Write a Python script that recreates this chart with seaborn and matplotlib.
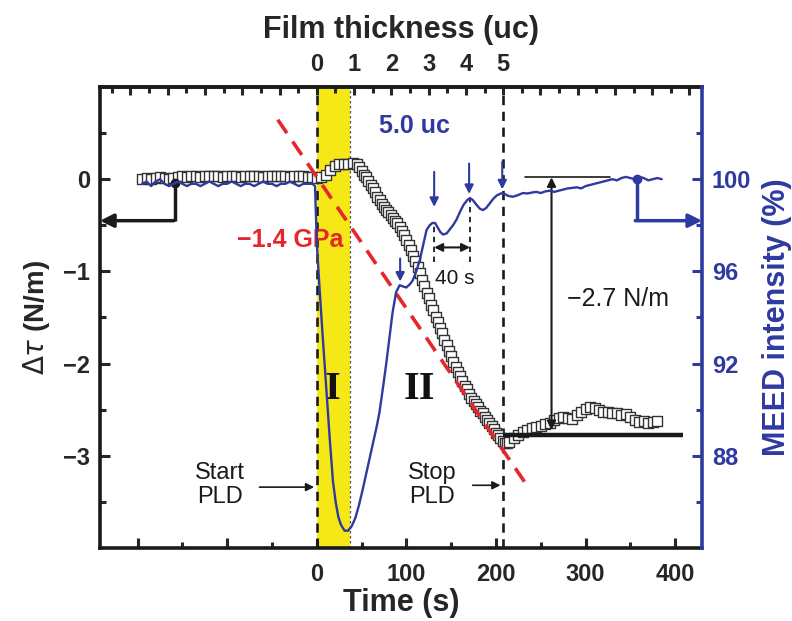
import numpy as np
import pandas as pd
import matplotlib
matplotlib.use("Agg")
import matplotlib.pyplot as plt
import seaborn as sns
from matplotlib.ticker import FixedLocator, MultipleLocator, FuncFormatter

# ---------------- data ----------------
# surface stress (N/m), three sampling blocks
stress_t1 = list(range(-195, 45, 5))
stress_v1 = [0.00, 0.01, 0.00, 0.01, 0.02, 0.01, 0.00, 0.01, 0.02, 0.03,
             0.02, 0.03, 0.03, 0.02, 0.03, 0.04, 0.03, 0.03, 0.02, 0.03,
             0.04, 0.03, 0.02, 0.03, 0.03, 0.04, 0.03, 0.02, 0.03, 0.03,
             0.04, 0.03, 0.03, 0.02, 0.03, 0.04, 0.03, 0.02, 0.02,
             0.01, 0.02, 0.05, 0.10, 0.14, 0.16, 0.17, 0.17, 0.18]
stress_t2 = [45 + 2.5 * i for i in range(68)]
stress_v2 = [0.16, 0.13, 0.09, 0.05,
             0.02, -0.02, -0.06, -0.10, -0.14, -0.19, -0.23, -0.27, -0.30, -0.33,
             -0.36, -0.39, -0.42, -0.45, -0.48, -0.52, -0.56, -0.61, -0.66, -0.71,
             -0.77, -0.83, -0.89, -0.95, -1.02, -1.09, -1.16, -1.23, -1.29, -1.36,
             -1.42, -1.49, -1.55, -1.61, -1.67, -1.74, -1.80, -1.86, -1.92, -1.98,
             -2.04, -2.09, -2.14, -2.19, -2.24, -2.28, -2.33, -2.37, -2.41, -2.44,
             -2.47, -2.51, -2.54, -2.58, -2.61, -2.64, -2.68, -2.71, -2.75, -2.78,
             -2.81, -2.84, -2.86, -2.86]
stress_t3 = list(range(215, 385, 5))
stress_v3 = [-2.85, -2.81, -2.77, -2.74, -2.72, -2.70, -2.69, -2.68, -2.66, -2.64,
             -2.61, -2.59, -2.58, -2.59, -2.60, -2.56, -2.52, -2.49, -2.47, -2.48,
             -2.50, -2.52, -2.53, -2.54, -2.54, -2.56, -2.55, -2.58, -2.61, -2.63,
             -2.62, -2.64, -2.63, -2.62]

# MEED intensity (%)
meed_t1 = list(range(-195, 0, 5))
meed_v1 = [99.8, 99.9, 99.7, 99.9, 100.0, 99.8, 99.7, 99.8, 99.9, 99.8,
           99.7, 99.8, 99.8, 99.7, 99.8, 99.9, 99.8, 99.7, 99.8, 99.8,
           99.9, 99.8, 99.7, 99.8, 99.8, 99.7, 99.8, 99.9, 99.8, 99.8,
           99.7, 99.8, 99.8, 99.9, 99.8, 99.7, 99.8, 99.8, 99.8]
meed_t2 = [-2, 0, 3, 6, 9, 12, 14.5, 18, 21, 24, 27, 31, 35, 39, 43, 47, 51, 55,
           59, 63, 67, 70, 74, 77.5, 81, 84.5, 88.5, 92.5, 96, 100, 104, 107, 111,
           115, 119, 122.5, 126, 129, 132, 135, 138, 141, 145, 149, 152, 156, 160,
           164, 168, 171, 174, 178, 182, 185.5, 189, 193, 197, 201, 206, 210, 214,
           219, 224, 230]
meed_v2 = [99.7, 97.2, 95.3, 93.5, 91.8, 90.1, 88.7, 86.9, 86.0, 85.35, 85.0, 84.75,
           84.75, 84.95, 85.3, 85.85, 86.5, 87.2, 87.9, 88.6, 89.3, 89.9, 91.0, 92.0,
           93.1, 94.2, 95.1, 95.4, 95.35, 95.3, 95.45, 95.6, 96.0, 96.5, 97.2, 97.8,
           98.0, 98.1, 98.1, 97.9, 97.7, 97.6, 97.65, 97.85, 98.0, 98.25, 98.6, 98.9,
           99.1, 99.18, 99.1, 98.9, 98.72, 98.66, 98.75, 98.95, 99.15, 99.3, 99.39,
           99.35, 99.27, 99.24, 99.3, 99.4]
meed_t3 = list(range(235, 390, 5))
meed_v3 = [99.38, 99.42, 99.45, 99.4, 99.47, 99.5, 99.45, 99.5, 99.55, 99.6,
           99.62, 99.65, 99.6, 99.7, 99.75, 99.8, 99.85, 99.9, 99.95, 100.0,
           99.95, 100.05, 100.1, 100.05, 100.0, 100.1, 100.05, 99.95, 100.0, 100.05,
           100.0]

time_ticks = [0, 100, 200, 300, 400]
stress_ticks = [0, -1, -2, -3]
meed_ticks = [88, 92, 96, 100]
uc_ticks = [0, 1, 2, 3, 4, 5]
sec_per_uc = 41.6

stress_df = pd.DataFrame({"time": stress_t1 + stress_t2 + stress_t3,
                          "stress": stress_v1 + stress_v2 + stress_v3})
meed_df = pd.DataFrame({"time": meed_t1 + meed_t2 + meed_t3,
                        "meed": meed_v1 + meed_v2 + meed_v3})

# ---------------- style ----------------
sns.set_theme(style="white")
plt.rcParams["font.family"] = ["Liberation Sans", "DejaVu Sans"]
plt.rcParams["mathtext.fontset"] = "dejavusans"

BLUE = "#2f3aa0"
RED = "#e5262b"
YELLOW = "#f6e816"

fig = plt.figure(figsize=(7.92, 6.21), dpi=100)
ax = fig.add_axes([0.1263, 0.1176, 0.7601, 0.7423])
ax.set_xlim(-242, 430)
ax.set_ylim(-4, 1)
ax2 = ax.twinx()
ax2.set_ylim(84, 104)

# yellow band & vertical guides
ax.axvspan(0, 37, color=YELLOW, zorder=0, lw=0)
ax.axvline(0, color="k", ls=(0, (3.5, 2.5)), lw=1.9, zorder=1)
ax.axvline(208, color="k", ls=(0, (3.5, 2.5)), lw=1.9, zorder=1)
ax.axvline(37, color="#555555", ls=(0, (2, 2)), lw=0.9, zorder=1)

# stress squares
sns.scatterplot(data=stress_df, x="time", y="stress", ax=ax, marker="s", s=52,
                facecolor="white", edgecolor="#333333", linewidth=1.0, zorder=3,
                legend=False)

# red fit line
ax.plot([-43.6, 238], [0.645, -3.37], color=RED, ls=(0, (4.5, 2.8)), lw=2.6, zorder=4)

# MEED curve
sns.lineplot(data=meed_df, x="time", y="meed", ax=ax2, color=BLUE, lw=1.7,
             legend=False, zorder=5)

# left arrow (stress -> left axis)
ax.plot([-158, -158], [-0.04, -0.45], color="k", lw=2.5, zorder=6, solid_capstyle="butt")
ax.plot([-158], [-0.04], "o", color="k", ms=6, zorder=6)
ax.annotate("", xy=(-242, -0.45), xytext=(-159.5, -0.45),
            arrowprops=dict(arrowstyle="-|>", color="k", lw=2.5, mutation_scale=20,
                            shrinkA=0, shrinkB=0), zorder=6)
# right arrow (MEED -> right axis)
ax2.plot([357, 357], [100.0, 98.2], color=BLUE, lw=2.5, zorder=6, solid_capstyle="butt")
ax2.plot([357], [100.0], "o", color=BLUE, ms=6, zorder=6)
ax2.annotate("", xy=(430, 98.2), xytext=(355.5, 98.2),
             arrowprops=dict(arrowstyle="-|>", color=BLUE, lw=2.5, mutation_scale=20,
                             shrinkA=0, shrinkB=0), zorder=6)

# blue arrows marking oscillation maxima
for t, v0, v1 in [(93, -0.86, -1.11), (131, 0.08, -0.30), (170, 0.17, -0.16), (207, 0.19, -0.11)]:
    ax.annotate("", xy=(t, v1), xytext=(t, v0),
                arrowprops=dict(arrowstyle="-|>", color=BLUE, lw=1.5, mutation_scale=13,
                                shrinkA=0, shrinkB=0), zorder=7)

# 40 s period
ax.vlines([131, 171], [-0.90, -0.90], [-0.475, -0.205], colors="k",
          linestyles=(0, (3, 2.5)), lw=1.3, zorder=4)
ax.annotate("", xy=(131, -0.74), xytext=(171, -0.74),
            arrowprops=dict(arrowstyle="<|-|>", color="k", lw=1.5, mutation_scale=12,
                            shrinkA=0, shrinkB=0), zorder=7)
ax.text(154, -1.08, "40 s", ha="center", va="center", fontsize=15, color="k")

# -2.7 N/m bar
ax.plot([232, 327], [0.02, 0.02], color="k", lw=1.2, zorder=4)
ax.annotate("", xy=(262, -2.72), xytext=(262, 0.02),
            arrowprops=dict(arrowstyle="<|-|>", color="k", lw=1.5, mutation_scale=13,
                            shrinkA=0, shrinkB=0), zorder=7)
ax.plot([208, 409], [-2.77, -2.77], color="k", lw=3.2, zorder=4, solid_capstyle="butt")
ax.text(279, -1.30, "\u22122.7 N/m", ha="left", va="center", fontsize=18, color="k")

# labels inside
ax.text(109, 0.58, "5.0 uc", ha="center", va="center", fontsize=18, color=BLUE,
        fontweight="bold")
ax.text(-30, -0.66, "\u22121.4 GPa", ha="center", va="center", fontsize=18, color=RED,
        fontweight="bold")
ax.text(18, -2.28, "I", ha="center", va="center", fontsize=29, color="#111111",
        family="Liberation Serif", fontweight="bold")
ax.text(115, -2.28, "II", ha="center", va="center", fontsize=29, color="#111111",
        family="Liberation Serif", fontweight="bold")
ax.text(-108, -3.32, "Start\nPLD", ha="center", va="center", fontsize=17,
        linespacing=1.1, color="k")
ax.annotate("", xy=(-3, -3.34), xytext=(-64, -3.34),
            arrowprops=dict(arrowstyle="-|>", color="k", lw=1.2, mutation_scale=12,
                            shrinkA=0, shrinkB=0))
ax.text(128.5, -3.32, "Stop\nPLD", ha="center", va="center", fontsize=17,
        linespacing=1.1, color="k")
ax.annotate("", xy=(205, -3.32), xytext=(174, -3.32),
            arrowprops=dict(arrowstyle="-|>", color="k", lw=1.2, mutation_scale=12,
                            shrinkA=0, shrinkB=0))

# ---------------- axes formatting ----------------
TICK_FS = 17
LAB_FS = 22
ax.set_xlabel("Time (s)", fontsize=LAB_FS, fontweight="bold", labelpad=1)
ax.set_ylabel(r"$\Delta\tau$ (N/m)", fontsize=20, fontweight="bold", labelpad=8)
ax2.set_ylabel("MEED intensity (%)", fontsize=LAB_FS, fontweight="bold", color=BLUE,
               labelpad=8)

ax.xaxis.set_major_locator(FixedLocator([-200, -100] + time_ticks))
ax.xaxis.set_major_formatter(FuncFormatter(lambda v, p: f"{int(v)}" if v >= 0 else ""))
ax.xaxis.set_minor_locator(FixedLocator([-150, -50, 50, 150, 250, 350]))
ax.yaxis.set_major_locator(FixedLocator(stress_ticks))
ax.yaxis.set_major_formatter(FuncFormatter(lambda v, p: f"{int(v)}".replace("-", "\u2212")))
ax.yaxis.set_minor_locator(FixedLocator([0.5, -0.5, -1.5, -2.5, -3.5]))
ax2.yaxis.set_major_locator(FixedLocator(meed_ticks))
ax2.yaxis.set_minor_locator(FixedLocator([86, 90, 94, 98, 102]))

for a in (ax, ax2):
    a.tick_params(which="major", direction="in", length=7, width=2.2, labelsize=TICK_FS)
    a.tick_params(which="minor", direction="in", length=4, width=2.2)
ax.tick_params(axis="both", which="both", top=False, right=False, left=True, bottom=True)
ax2.tick_params(axis="y", which="both", colors=BLUE, right=True, left=False)
for lab in ax.get_xticklabels() + ax.get_yticklabels() + ax2.get_yticklabels():
    lab.set_fontweight("bold")
ax.tick_params(axis="x", pad=11)
ax.tick_params(axis="y", pad=7)
ax2.tick_params(axis="y", pad=7)

for s in ["left", "bottom", "top"]:
    ax.spines[s].set_linewidth(2.6)
    ax.spines[s].set_color("k")
ax.spines["right"].set_visible(False)
for s in ["left", "bottom", "top"]:
    ax2.spines[s].set_visible(False)
ax2.spines["right"].set_linewidth(2.6)
ax2.spines["right"].set_color(BLUE)

sec = ax.secondary_xaxis("top", functions=(lambda t: t / sec_per_uc, lambda u: u * sec_per_uc))
sec.xaxis.set_major_locator(FixedLocator(list(range(-6, 11))))
sec.xaxis.set_major_formatter(FuncFormatter(lambda v, p: f"{int(round(v))}" if 0 <= round(v) <= 5 else ""))
sec.xaxis.set_minor_locator(MultipleLocator(0.5))
sec.tick_params(which="major", direction="in", length=6, width=2.2, labelsize=TICK_FS, pad=8)
sec.tick_params(which="minor", direction="in", length=4, width=2.2)
sec.spines["top"].set_linewidth(2.6)
for lab in sec.get_xticklabels():
    lab.set_fontweight("bold")
sec.set_xlabel("Film thickness (uc)", fontsize=LAB_FS, fontweight="bold", labelpad=11)

fig.savefig("out.png", dpi=100)
